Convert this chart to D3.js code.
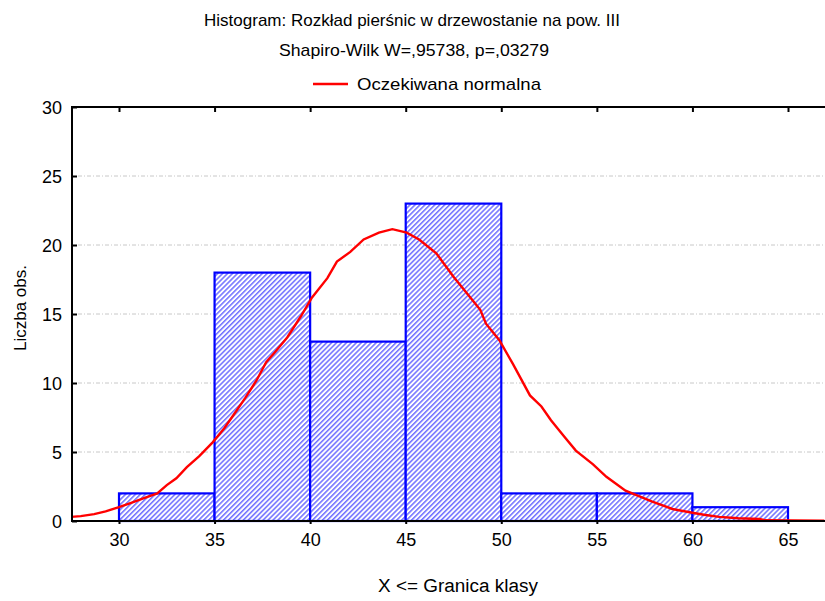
<!DOCTYPE html>
<html><head><meta charset="utf-8">
<script src="https://cdn.jsdelivr.net/npm/d3@7/dist/d3.min.js"></script>
<style>body{margin:0;background:#fff}svg{display:block;font-family:"Liberation Sans",Arial,sans-serif}</style>
</head><body>
<script>
const binStarts = [30, 35, 40, 45, 50, 55, 60];
const binWidth = 5;
const counts = [2, 18, 13, 23, 2, 2, 1];
const xTicks = [30, 35, 40, 45, 50, 55, 60, 65];
const yTicks = [0, 5, 10, 15, 20, 25, 30];
const curveX = [27.5, 28, 28.7, 29.3, 30, 30.6, 31.2, 32, 32.5, 33, 33.55, 34.2, 34.9, 35.5, 36, 36.6, 37.2, 37.7, 38.2, 38.8, 39.5, 40.1, 40.9, 41.4, 42.1, 42.8, 43.6, 44.3, 45.05, 45.7, 46.6, 47.5, 48.2, 48.9, 49.2, 49.9, 50.6, 51.5, 52.1, 52.6, 53.3, 53.9, 54.8, 55.5, 56.5, 57.2, 57.9, 58.95, 60, 60.6, 61.4, 62.4, 63.5, 63.8, 66.9];
const curveY = [0.3, 0.35, 0.5, 0.7, 1.0, 1.3, 1.6, 2.0, 2.6, 3.1, 3.9, 4.7, 5.7, 6.7, 7.7, 8.9, 10.2, 11.5, 12.3, 13.3, 14.8, 16.2, 17.6, 18.8, 19.5, 20.4, 20.9, 21.15, 20.9, 20.4, 19.4, 17.7, 16.5, 15.3, 14.3, 13.1, 11.4, 9.1, 8.3, 7.3, 6.1, 5.1, 4.1, 3.2, 2.2, 1.8, 1.4, 0.87, 0.6, 0.45, 0.3, 0.2, 0.15, 0.05, 0.02];

const W = 825, H = 601;
const svg = d3.select("body").append("svg").attr("width", W).attr("height", H);

const x = d3.scaleLinear().domain([30, 65]).range([119, 788]);
const xl = x.invert(72), xr = x.invert(825);
x.domain([xl, xr]).range([72, 825]);
const y = d3.scaleLinear().domain([0, 30]).range([521, 107]);

const defs = svg.append("defs");
const pat = defs.append("pattern").attr("id", "hatch").attr("patternUnits", "userSpaceOnUse")
  .attr("width", 3.5).attr("height", 3.5).attr("patternTransform", "rotate(45)");
pat.append("rect").attr("width", 3.5).attr("height", 3.5).attr("fill", "#ffffff");
pat.append("line").attr("x1", 0.8).attr("y1", 0).attr("x2", 0.8).attr("y2", 3.5)
  .attr("stroke", "#4848ff").attr("stroke-width", 1.2);

// titles
function fitText(sel, len) { sel.attr("textLength", len).attr("lengthAdjust", "spacingAndGlyphs"); }
fitText(svg.append("text").attr("x", 412).attr("y", 26).attr("text-anchor", "middle").attr("font-size", 17)
  .text("Histogram: Rozkład pierśnic w drzewostanie na pow. III"), 416);
fitText(svg.append("text").attr("x", 414).attr("y", 56).attr("text-anchor", "middle").attr("font-size", 17)
  .text("Shapiro-Wilk W=,95738, p=,03279"), 270);
svg.append("line").attr("x1", 313).attr("x2", 348).attr("y1", 84).attr("y2", 84).attr("stroke", "#ff0000").attr("stroke-width", 2.5);
fitText(svg.append("text").attr("x", 357).attr("y", 90).attr("font-size", 17).text("Oczekiwana normalna"), 184);

// grid
svg.append("g").selectAll("line").data(yTicks.filter(d => d > 0 && d < 30)).join("line")
  .attr("x1", 78).attr("x2", 825).attr("y1", d => y(d)).attr("y2", d => y(d))
  .attr("stroke", "#c8c8c8").attr("stroke-width", 1).attr("stroke-dasharray", "4,2,1,2");

// bars
svg.append("g").selectAll("rect").data(binStarts).join("rect")
  .attr("x", (d) => x(d)).attr("width", d => x(d + binWidth) - x(d))
  .attr("y", (d, i) => y(counts[i])).attr("height", (d, i) => y(0) - y(counts[i]))
  .attr("fill", "url(#hatch)").attr("stroke", "#0000ff").attr("stroke-width", 2.2);

// curve
const line = d3.line().x(d => x(d[0])).y(d => y(d[1]));
svg.append("path").datum(curveX.map((v, i) => [v, curveY[i]]))
  .attr("d", line).attr("fill", "none").attr("stroke", "#ff0000").attr("stroke-width", 2.4);

// axes
const yAxis = svg.append("g").attr("transform", "translate(72,0)")
  .call(d3.axisRight(y).tickValues(yTicks).tickSize(5).tickFormat(""));
yAxis.select(".domain").remove();
yAxis.selectAll("line").attr("stroke", "#000").attr("stroke-width", 2);
svg.append("g").selectAll("text").data(yTicks).join("text")
  .attr("x", 62).attr("y", d => y(d) + 6.5).attr("text-anchor", "end").attr("font-size", 18).text(d => d);

const xAxis = svg.append("g").attr("transform", "translate(0,521)")
  .call(d3.axisBottom(x).tickValues(xTicks).tickSize(3).tickFormat(d => d));
xAxis.select(".domain").remove();
xAxis.selectAll("line").attr("stroke", "#000").attr("stroke-width", 2);
xAxis.selectAll("text").attr("font-size", 18).attr("font-family", "Liberation Sans, Arial, sans-serif").attr("dy", "1.05em").attr("fill", "#000");

const xTop = svg.append("g").attr("transform", "translate(0,107)")
  .call(d3.axisBottom(x).tickValues(xTicks).tickSize(5).tickFormat(""));
xTop.select(".domain").remove();
xTop.selectAll("line").attr("stroke", "#000").attr("stroke-width", 2);

svg.append("line").attr("x1", 71).attr("x2", 825).attr("y1", 107).attr("y2", 107).attr("stroke", "#000").attr("stroke-width", 2);
svg.append("line").attr("x1", 71).attr("x2", 825).attr("y1", 521).attr("y2", 521).attr("stroke", "#000").attr("stroke-width", 2);
svg.append("line").attr("x1", 72).attr("x2", 72).attr("y1", 106).attr("y2", 522).attr("stroke", "#000").attr("stroke-width", 2);

fitText(svg.append("text").attr("x", 458).attr("y", 592).attr("text-anchor", "middle").attr("font-size", 18).text("X <= Granica klasy"), 160);
svg.append("text").attr("transform", "translate(26,308) rotate(-90)").attr("text-anchor", "middle").attr("font-size", 17).text("Liczba obs.");
</script>
</body></html>
